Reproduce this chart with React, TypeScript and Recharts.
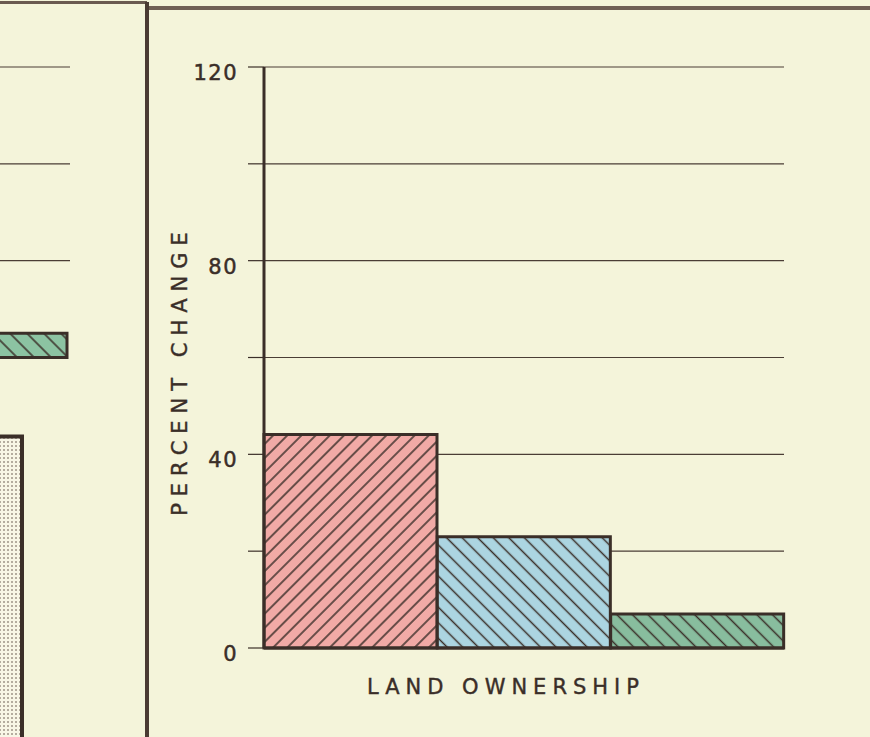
import React from 'react';
import {
  BarChart,
  Bar,
  Cell,
  XAxis,
  YAxis,
  CartesianGrid,
  ReferenceLine,
} from 'recharts';

// main panel: percent change by land ownership group (no category names printed)
const groups = ['Group A', 'Group B', 'Group C'];
const percentChange = [44.1, 23.0, 7.0];
const yTicks = [0, 20, 40, 60, 80, 100, 120];
const labelledTicks = [0, 40, 80, 120];

// left panel: fragment of the neighbouring chart, cut off by the page edge
const leftGridValues = [120, 100, 80];
const leftDottedRange = [-20, 43.7];
const leftGreenRange = [60.0, 65.0];

const INK = '#3a2e28';
const PAPER = '#f4f4da';
const FONT = '"DejaVu Sans", sans-serif';

const fills = ['url(#hatchRed)', 'url(#hatchBlue)', 'url(#hatchGreen)'];

const mainData = groups.map((name, i) => ({ name, value: percentChange[i] }));

function Hatch({ id, color, angle, size }: { id: string; color: string; angle: number; size: number }) {
  return (
    <pattern
      id={id}
      patternUnits="userSpaceOnUse"
      width={size}
      height={size}
      patternTransform={`rotate(${angle})`}
    >
      <rect width={size} height={size} fill={color} />
      <line x1={size / 2} y1={0} x2={size / 2} y2={size} stroke={INK} strokeWidth={1.5} />
    </pattern>
  );
}

const YTick = (props: any) => {
  const { x, y, payload } = props;
  if (!labelledTicks.includes(payload.value)) return <g />;
  return (
    <text
      x={x}
      y={y + 7}
      textAnchor="end"
      dominantBaseline="middle"
      fill={INK}
      stroke={INK}
      strokeWidth={0.5}
      fontSize={21}
      fontFamily={FONT}
      letterSpacing={1.5}
    >
      {payload.value}
    </text>
  );
};

// axis titles, hand-lettered and a little off-centre in the original
const XTitle = (props: any) => {
  const { viewBox } = props;
  const cx = viewBox.x + viewBox.width / 2 - 18;
  return (
    <text
      x={cx}
      y={viewBox.y + 46}
      textAnchor="middle"
      fill={INK}
      stroke={INK}
      strokeWidth={0.4}
      fontSize={21}
      fontFamily={FONT}
      letterSpacing={6}
    >
      LAND OWNERSHIP
    </text>
  );
};

const YTitle = (props: any) => {
  const { viewBox } = props;
  const cx = viewBox.x + 37;
  const cy = viewBox.y + viewBox.height / 2 + 13;
  return (
    <text
      x={cx}
      y={cy}
      transform={`rotate(-90, ${cx}, ${cy})`}
      textAnchor="middle"
      fill={INK}
      stroke={INK}
      strokeWidth={0.4}
      fontSize={21}
      fontFamily={FONT}
      letterSpacing={7}
    >
      PERCENT CHANGE
    </text>
  );
};

function MainChart() {
  return (
    <BarChart
      width={720}
      height={737}
      data={mainData}
      margin={{ top: 67, right: 86, left: 0, bottom: 41 }}
      barCategoryGap={0}
    >
      <defs>
        <Hatch id="hatchRed" color="#f1aaa6" angle={45} size={10} />
        <Hatch id="hatchBlue" color="#acd5e1" angle={-45} size={11} />
        <Hatch id="hatchGreen" color="#88bd9e" angle={-45} size={11} />
      </defs>
      <CartesianGrid vertical={false} stroke="#4a3d35" strokeWidth={1.2} />
      <XAxis
        dataKey="name"
        tick={false}
        tickLine={false}
        axisLine={{ stroke: INK, strokeWidth: 3 }}
        height={48}
        label={{ value: 'LAND OWNERSHIP', content: XTitle }}
      />
      <YAxis
        width={114}
        domain={[0, 120]}
        ticks={yTicks}
        interval={0}
        tickSize={16}
        tickMargin={10}
        tick={YTick}
        tickLine={{ stroke: INK, strokeWidth: 1.2 }}
        axisLine={{ stroke: INK, strokeWidth: 3 }}
        label={{ value: 'PERCENT CHANGE', content: YTitle }}
      />
      <Bar dataKey="value" stroke={INK} strokeWidth={3} isAnimationActive={false}>
        {mainData.map((d, i) => (
          <Cell key={d.name} fill={fills[i]} />
        ))}
      </Bar>
    </BarChart>
  );
}

function LeftFragment() {
  const common = {
    width: 300,
    height: 760,
    margin: { top: 67, right: 0, left: 0, bottom: 15 },
  };
  return (
    <div style={{ position: 'absolute', left: 0, top: 0, width: 145, height: 737, overflow: 'hidden' }}>
      <div style={{ position: 'absolute', left: -230, top: 0 }}>
        <BarChart {...common} data={[{ name: 'left', range: leftDottedRange }]}>
          <defs>
            <pattern id="dots" patternUnits="userSpaceOnUse" width={4} height={4}>
              <rect width={4} height={4} fill="#f8f6e6" />
              <circle cx={2} cy={2} r={0.8} fill="#5d4e45" />
            </pattern>
          </defs>
          <XAxis dataKey="name" hide />
          <YAxis hide domain={[-20, 120]} />
          {leftGridValues.map((v) => (
            <ReferenceLine key={v} y={v} stroke="#4a3d35" strokeWidth={1.2} />
          ))}
          <Bar dataKey="range" barSize={204} fill="url(#dots)" stroke={INK} strokeWidth={4} isAnimationActive={false} />
        </BarChart>
      </div>
      <div style={{ position: 'absolute', left: -230, top: 0 }}>
        <BarChart {...common} data={[{ name: 'left', range: leftGreenRange }]}>
          <defs>
            <Hatch id="hatchGreenLeft" color="#8cc3a2" angle={-45} size={12} />
          </defs>
          <XAxis dataKey="name" hide />
          <YAxis hide domain={[-20, 120]} />
          <Bar dataKey="range" barSize={294} fill="url(#hatchGreenLeft)" stroke={INK} strokeWidth={3} isAnimationActive={false} />
        </BarChart>
      </div>
    </div>
  );
}

export default function App() {
  return (
    <div
      style={{
        position: 'absolute',
        left: 0,
        top: 0,
        width: 870,
        height: 737,
        background: PAPER,
        overflow: 'hidden',
      }}
    >
      <LeftFragment />
      <div style={{ position: 'absolute', left: 150, top: 0 }}>
        <MainChart />
      </div>
      {/* panel frame */}
      <div style={{ position: 'absolute', left: 0, top: 1, width: 147, height: 3, background: '#6a5a50' }} />
      <div style={{ position: 'absolute', left: 147, top: 6, width: 723, height: 4, background: '#6f5f55' }} />
      <div style={{ position: 'absolute', left: 145, top: 2, width: 4, height: 735, background: '#4a3b33' }} />
    </div>
  );
}
